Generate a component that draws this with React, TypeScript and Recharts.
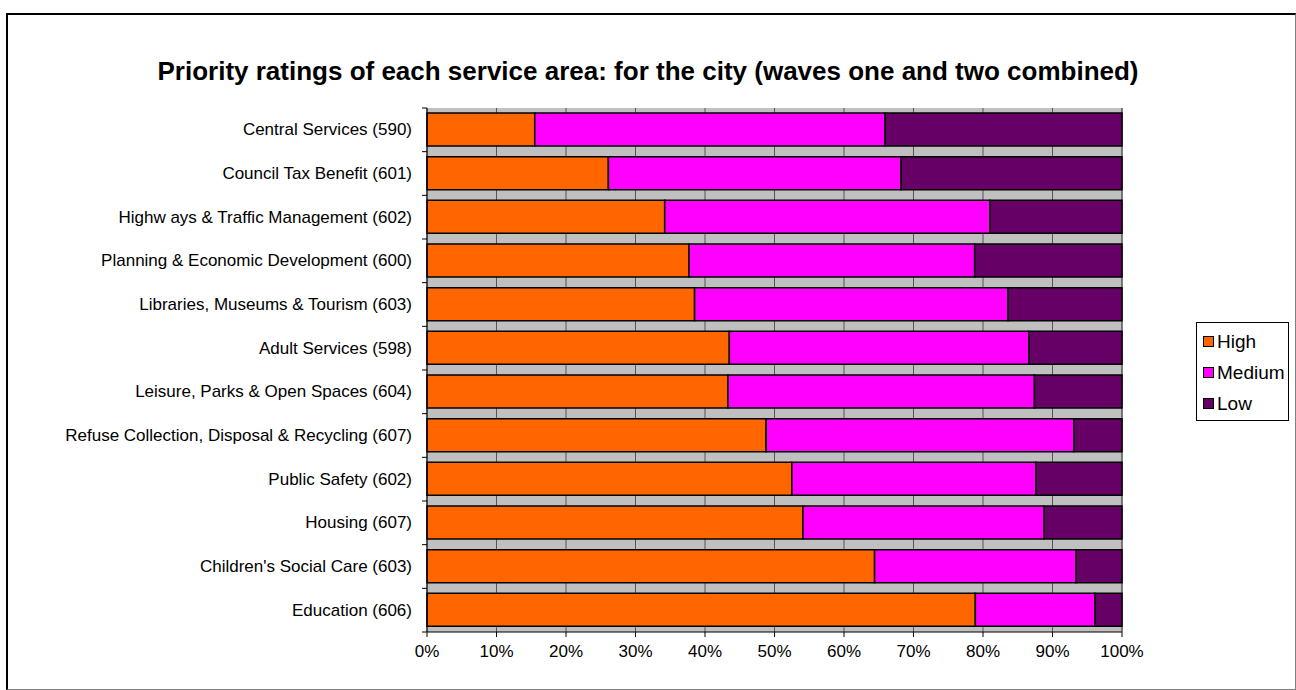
import React from "react";
import { BarChart, Bar, XAxis, YAxis, CartesianGrid } from "recharts";

const categories = [
  "Central Services (590)",
  "Council Tax Benefit (601)",
  "Highw ays & Traffic Management (602)",
  "Planning & Economic Development (600)",
  "Libraries, Museums & Tourism (603)",
  "Adult Services (598)",
  "Leisure, Parks & Open Spaces (604)",
  "Refuse Collection, Disposal & Recycling (607)",
  "Public Safety (602)",
  "Housing (607)",
  "Children's Social Care (603)",
  "Education (606)",
];

const highValues = [15.5, 26.1, 34.2, 37.7, 38.5, 43.5, 43.3, 48.8, 52.5, 54.1, 64.4, 78.9];
const mediumValues = [50.4, 42.1, 46.8, 41.1, 45.1, 43.1, 44.1, 44.3, 35.1, 34.7, 29.0, 17.2];
const lowValues = [34.1, 31.8, 19.0, 21.2, 16.4, 13.4, 12.6, 6.9, 12.4, 11.2, 6.6, 3.9];

const xTicks = [0, 10, 20, 30, 40, 50, 60, 70, 80, 90, 100];

const series = [
  { key: "High", color: "#FF6600" },
  { key: "Medium", color: "#FF00FF" },
  { key: "Low", color: "#660066" },
];

const data = categories.map((name, i) => ({
  name,
  High: highValues[i],
  Medium: mediumValues[i],
  Low: lowValues[i],
}));

const W = 1296;
const H = 690;
const PLOT_LEFT = 427;
const PLOT_RIGHT = 1122;
const PLOT_TOP = 108;
const PLOT_BOTTOM = 632;
const BAND = (PLOT_BOTTOM - PLOT_TOP) / categories.length;
const FONT = "'Liberation Sans', Arial, sans-serif";

function CategoryTick(props: any) {
  const { y, payload, index } = props;
  const last = index === categories.length - 1;
  return (
    <g>
      <text
        x={PLOT_LEFT - 15}
        y={y}
        textAnchor="end"
        dominantBaseline="central"
        fontSize={17}
        fontFamily={FONT}
        fill="#000"
      >
        {payload.value}
      </text>
      <line x1={PLOT_LEFT - 5} x2={PLOT_LEFT} y1={y - BAND / 2} y2={y - BAND / 2} stroke="#000" strokeWidth={1} />
      {last && (
        <line x1={PLOT_LEFT - 5} x2={PLOT_LEFT} y1={y + BAND / 2} y2={y + BAND / 2} stroke="#000" strokeWidth={1} />
      )}
    </g>
  );
}

export default function App() {
  return (
    <div style={{ position: "relative", width: W, height: H, background: "#fff", fontFamily: FONT }}>
      <style>{"body{margin:0}"}</style>
      <div
        style={{
          position: "absolute",
          left: 6,
          top: 13,
          width: 1290,
          height: 677,
          borderTop: "2px solid #000",
          borderLeft: "2px solid #000",
          borderRight: "1px solid #808080",
          borderBottom: "1px solid #808080",
          boxSizing: "border-box",
        }}
      />
      <div
        style={{
          position: "absolute",
          left: 0,
          width: W,
          top: 56,
          textAlign: "center",
          fontWeight: "bold",
          fontSize: 26,
          color: "#000",
        }}
      >
        Priority ratings of each service area: for the city (waves one and two combined)
      </div>
      <div style={{ position: "absolute", left: 0, top: 0 }}>
        <BarChart
          width={W}
          height={H}
          data={data}
          layout="vertical"
          margin={{ top: PLOT_TOP, right: W - PLOT_RIGHT, bottom: H - PLOT_BOTTOM - 30, left: 7 }}
          barSize={33}
        >
          <CartesianGrid horizontal={false} vertical={true} fill="#C0C0C0" stroke="#555" strokeWidth={1} />
          <XAxis
            type="number"
            domain={[0, 100]}
            ticks={xTicks}
            interval={0}
            tickFormatter={(v: number) => `${v}%`}
            axisLine={{ stroke: "#000" }}
            tickLine={{ stroke: "#000" }}
            tickSize={5}
            tickMargin={8}
            height={30}
            tick={{ fontSize: 17, fill: "#000", fontFamily: FONT }}
          />
          <YAxis
            type="category"
            dataKey="name"
            width={420}
            interval={0}
            axisLine={{ stroke: "#000" }}
            tickLine={false}
            tick={<CategoryTick />}
          />
          {series.map((s) => (
            <Bar
              key={s.key}
              dataKey={s.key}
              stackId="a"
              fill={s.color}
              stroke="#000"
              strokeWidth={1.5}
              isAnimationActive={false}
            />
          ))}
        </BarChart>
      </div>
      <div
        style={{
          position: "absolute",
          left: 1196,
          top: 322,
          width: 93,
          height: 99,
          border: "1px solid #000",
          boxSizing: "border-box",
          background: "#fff",
          paddingTop: 3,
        }}
      >
        {series.map((s) => (
          <div key={s.key} style={{ display: "flex", alignItems: "center", height: 31, paddingLeft: 6 }}>
            <span
              style={{
                display: "inline-block",
                width: 9,
                height: 9,
                background: s.color,
                border: "1px solid #000",
                marginRight: 3,
              }}
            />
            <span style={{ fontSize: 19, color: "#000" }}>{s.key}</span>
          </div>
        ))}
      </div>
    </div>
  );
}
